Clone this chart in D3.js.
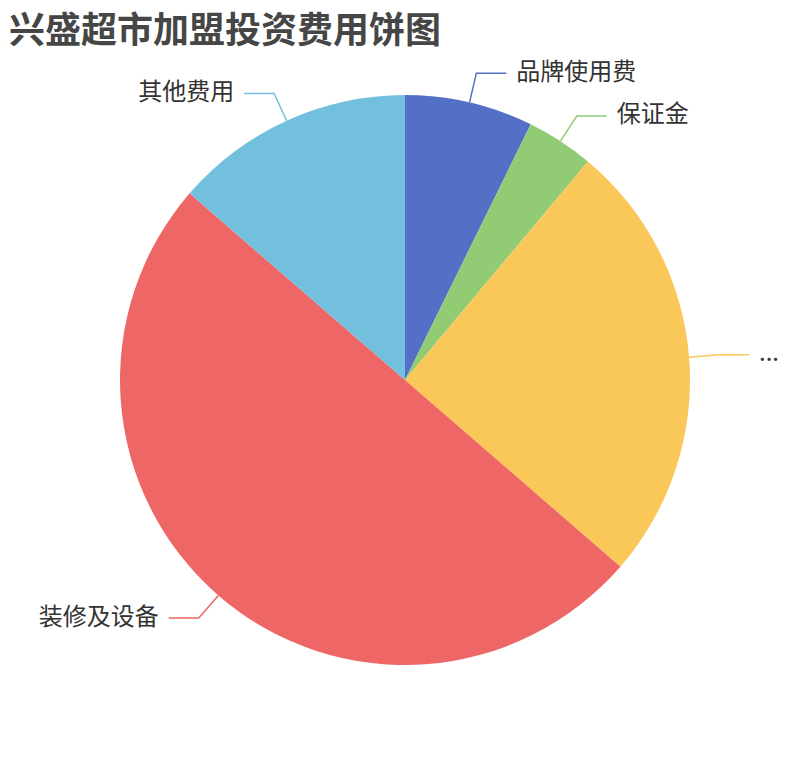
<!DOCTYPE html>
<html>
<head>
<meta charset="utf-8">
<script src="https://cdn.jsdelivr.net/npm/d3@7"></script>
<style>
  body { margin: 0; background: #fff; }
  text { font-family: "Noto Sans CJK SC", "Noto Sans", sans-serif; }
</style>
</head>
<body>
<script>
// chart data (万元)
var categories = ["品牌使用费", "保证金", "...", "装修及设备", "其他费用"];
var values = [8, 4.2, 27.8, 55, 15];

var palette = ["#5470c6", "#91cc75", "#fac858", "#ee6666", "#73c0de"];

var width = 810;
var height = 760;
var cx = 405, cy = 380;
var radius = Math.min(width, height) / 2 * 0.75;

var svg = d3.select("body")
            .append("svg")
            .attr("width", width)
            .attr("height", height);

// title
svg.append("text")
   .attr("x", 9)
   .attr("y", 27)
   .attr("dominant-baseline", "central")
   .style("font-size", "36px")
   .style("font-weight", "bold")
   .style("fill", "#464646")
   .text("兴盛超市加盟投资费用饼图");

var rows = categories.map(function(c, i) { return {name: c, value: values[i]}; });

var color = d3.scaleOrdinal()
              .domain(categories)
              .range(palette);

var pie = d3.pie()
            .sort(null)
            .value(function(d) { return d.value; });

var arc = d3.arc()
            .innerRadius(0)
            .outerRadius(radius);

var g = svg.append("g")
           .attr("transform", "translate(" + cx + "," + cy + ")");

var arcs = pie(rows);

// slices
g.selectAll(".slice")
 .data(arcs)
 .enter()
 .append("path")
 .attr("class", "slice")
 .attr("d", arc)
 .attr("fill", function(d) { return color(d.data.name); });

// label lines, first leg goes out along the middle angle then flat
var len1 = 30, len2 = 30;
function pointAt(a, r) { return [Math.sin(a) * r, -Math.cos(a) * r]; }

arcs.forEach(function(d) {
  var mid = (d.startAngle + d.endAngle) / 2;
  var p0 = pointAt(mid, radius);
  var p1 = pointAt(mid, radius + len1);
  var right = Math.sin(mid) >= 0;
  var p2 = [p1[0] + (right ? len2 : -len2), p1[1]];

  g.append("path")
   .attr("d", d3.line()([p0, p1, p2]))
   .attr("fill", "none")
   .attr("stroke", color(d.data.name))
   .attr("stroke-width", 1.5);

  g.append("text")
   .attr("x", p2[0] + (right ? 10 : -10))
   .attr("y", p2[1] - 4)
   .attr("text-anchor", right ? "start" : "end")
   .attr("dominant-baseline", "central")
   .style("font-size", "24px")
   .style("fill", "#333")
   .text(d.data.name);
});
</script>
</body>
</html>
